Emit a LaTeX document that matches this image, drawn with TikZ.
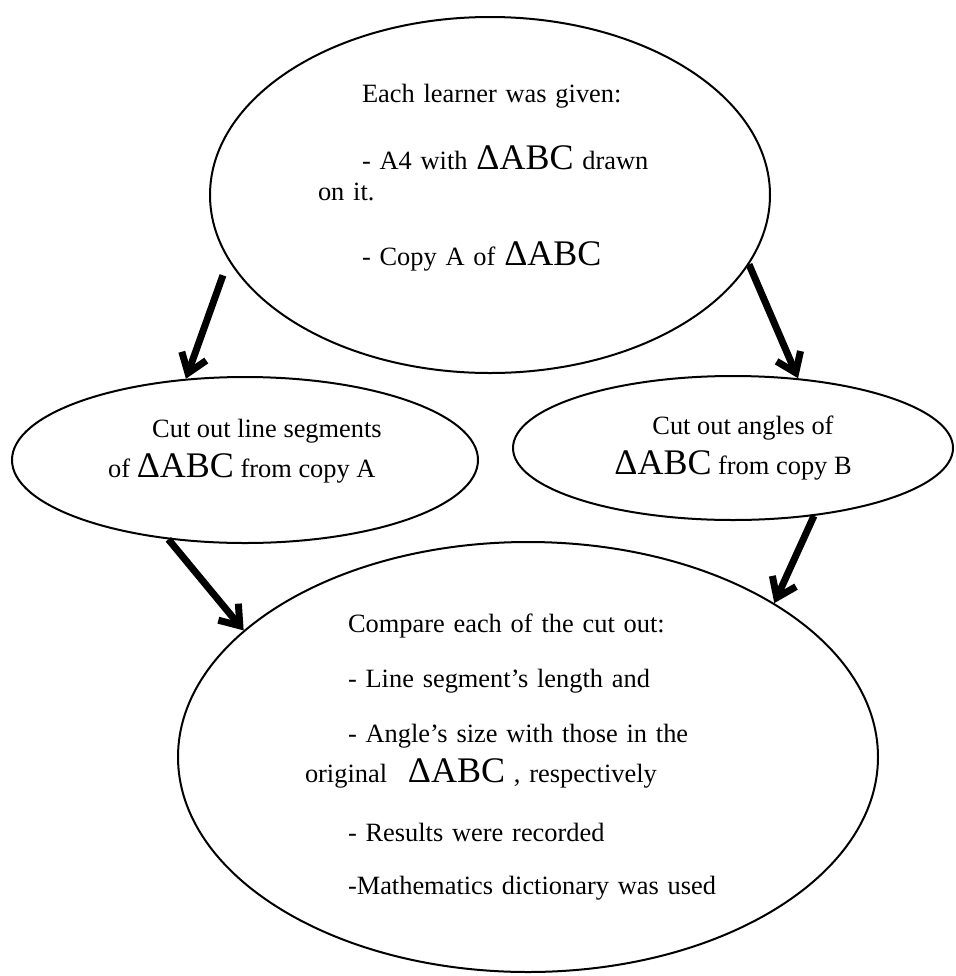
\documentclass[tikz,border=0pt]{standalone}
\usepackage{fontspec}
\setmainfont{Liberation Serif}
\usetikzlibrary{shapes.geometric,arrows.meta}

\newcommand{\tri}{{\fontsize{18}{18}\selectfont ΔABC}}

\begin{document}
\begin{tikzpicture}[x=0.5pt,y=-0.5pt,
    bubble/.style={ellipse,draw,line width=1pt,inner sep=0pt,
                   font=\fontsize{13.2}{15.5}\selectfont},
    flow/.style={line width=3.5pt,-{Straight Barb[length=9pt,width=13pt]}}]
    \useasboundingbox (0,0) rectangle (956,976);

    \node[bubble,minimum width=280pt,minimum height=178pt,text width=172pt,align=left] (given) at (490,195)
        {\hspace*{22pt}Each learner was given:\\[18pt]
         \hspace*{22pt}- A4 with \tri{} drawn\\
         on it.\\[17pt]
         \hspace*{22pt}- Copy A of \tri\\[4.5pt]\mbox{}};
    \node[bubble,minimum width=233pt,minimum height=83pt,align=left] (segments) at (245,460)
        {\hspace*{22pt}Cut out line segments\\[4.5pt]
         of \tri{} from copy A\\[-3.5pt]\mbox{}};
    \node[bubble,minimum width=220pt,minimum height=72pt,align=left] (angles) at (733,448)
        {\hspace*{19pt}Cut out angles of\\[4.5pt]
         \tri{} from copy B};
    \node[bubble,minimum width=350pt,minimum height=215pt,text width=223pt,align=left] (compare) at (528,757)
        {\hspace*{21.5pt}Compare each of the cut out:\\[12pt]
         \hspace*{21.5pt}- Line segment’s length and\\[12pt]
         \hspace*{21.5pt}- Angle’s size with those in the\\[4.5pt]
         original\hspace{6pt} \tri{} , respectively\\[14pt]
         \hspace*{21.5pt}- Results were recorded\\[11pt]
         \hspace*{21.5pt}-Mathematics dictionary was used};

    \path[flow] (given.194)    edge[shorten <=8pt] (segments.126)
                (given.345)    edge (angles.47)
                (segments.226) edge (compare.156)
                (angles.320)   edge (compare.32);
\end{tikzpicture}
\end{document}
